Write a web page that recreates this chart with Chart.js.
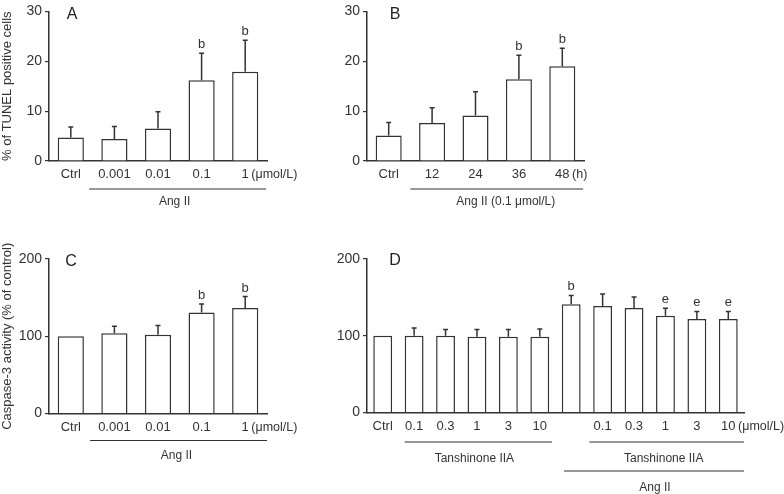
<!DOCTYPE html>
<html><head><meta charset="utf-8">
<script src="https://cdn.jsdelivr.net/npm/chart.js@4.4.0/dist/chart.umd.min.js"></script>
<style>
html,body{margin:0;padding:0;background:#fff;width:784px;height:494px;overflow:hidden;}
canvas{position:absolute;}
</style></head><body>
<canvas id="cA" width="330" height="230" style="left:0;top:0"></canvas>
<canvas id="cB" width="330" height="230" style="left:300px;top:0"></canvas>
<canvas id="cC" width="330" height="264" style="left:0;top:230px"></canvas>
<canvas id="cD" width="484" height="264" style="left:300px;top:230px"></canvas>
<script>
// ---- data ----
const doseLabels = ['Ctrl','0.001','0.01','0.1','1'];
const timeLabels = ['Ctrl','12','24','36','48'];
const tanLabels = ['Ctrl','0.1','0.3','1','3','10','','0.1','0.3','1','3','10'];

const tunelDoseMean = [4.7, 4.4, 6.5, 16.2, 17.9];
const tunelDoseSD   = [2.1, 2.5, 3.4, 5.4, 6.3];
const tunelDoseSig  = ['', '', '', 'b', 'b'];

const tunelTimeMean = [5.1, 7.6, 9.1, 16.4, 19.0];
const tunelTimeSD   = [2.6, 3.1, 4.8, 4.8, 3.6];
const tunelTimeSig  = ['', '', '', 'b', 'b'];

const caspDoseMean = [100, 103.9, 102, 130.6, 136.6];
const caspDoseSD   = [0, 9, 12, 11.3, 14.7];
const caspDoseSig  = ['', '', '', 'b', 'b'];

const caspTanMean = [100, 100, 100, 98.7, 98.7, 98.7, 140.9, 138.7, 136.1, 126.1, 121.7, 121.7];
const caspTanSD   = [0, 10, 8.3, 9.6, 9.6, 10, 11.7, 15.6, 14.3, 9.6, 10, 10];
const caspTanSig  = ['', '', '', '', '', '', 'b', '', '', 'e', 'e', 'e'];

const tunelTicks = [0, 10, 20, 30];
const caspTicks  = [0, 100, 200];

const unitDose = '(\u03bcmol/L)';
const unitTime = '(h)';

const groupsA = [{from:1, to:4, level:0, text:'Ang II'}];
const groupsB = [{from:1, to:4, level:0, text:'Ang II (0.1 \u03bcmol/L)'}];
const groupsC = [{from:1, to:4, level:0, text:'Ang II'}];
const groupsD = [{from:1, to:5, level:0, text:'Tanshinone IIA'},
                 {from:7, to:11, level:0, text:'Tanshinone IIA'},
                 {from:6, to:11, level:1, text:'Ang II'}];

// ---- style ----
const INK = '#333';
const FONT = '"Liberation Sans", Arial, sans-serif';
Chart.defaults.font.family = FONT;
Chart.defaults.color = INK;

const DECO = {
  cA: {sd: tunelDoseSD, sig: tunelDoseSig, unit: unitDose, groups: groupsA, letter:'A', lx:72, ly:15,
       lineOff:28, levelGap:29, textGap:13, lo:[-0.58], hi:[0.48], dx:[-3]},
  cB: {sd: tunelTimeSD, sig: tunelTimeSig, unit: unitTime, groups: groupsB, letter:'B', lx:95, ly:14.5,
       lineOff:28, levelGap:29, textGap:13, lo:[-0.5], hi:[0.48], dx:[9]},
  cC: {sd: caspDoseSD, sig: caspDoseSig, unit: unitDose, groups: groupsC, letter:'C', lx:71, ly:31.5,
       lineOff:27, levelGap:29, textGap:15, lo:[-0.56], hi:[0.5], dx:[-2]},
  cD: {sd: caspTanSD, sig: caspTanSig, unit: unitDose, groups: groupsD, letter:'D', lx:95, ly:31,
       lineOff:29.5, levelGap:29, textGap:16.5, lo:[-0.3,-0.42,-0.23], hi:[0.39,0.5,0.5], dx:[-4,-3,1]}
};

const deco = {
  id: 'deco',
  afterDatasetsDraw(chart) {
    const c = DECO[chart.canvas.id];
    const ctx = chart.ctx, y = chart.scales.y;
    const meta = chart.getDatasetMeta(0);
    const data = chart.data.datasets[0].data;
    ctx.save();
    ctx.strokeStyle = INK; ctx.fillStyle = INK; ctx.lineWidth = 1.5;
    ctx.font = '13px ' + FONT; ctx.textAlign = 'center'; ctx.textBaseline = 'alphabetic';
    data.forEach((v, i) => {
      const bx = meta.data[i].x;
      const y0 = y.getPixelForValue(v), y1 = y.getPixelForValue(v + c.sd[i]);
      if (c.sd[i] > 0) {
        ctx.beginPath();
        ctx.moveTo(bx, y0); ctx.lineTo(bx, y1);
        ctx.moveTo(bx - 2.5, y1); ctx.lineTo(bx + 2.5, y1);
        ctx.stroke();
      }
      if (c.sig[i]) ctx.fillText(c.sig[i], bx, y1 - 5);
    });
    ctx.restore();
  },
  afterDraw(chart) {
    const c = DECO[chart.canvas.id];
    const ctx = chart.ctx, x = chart.scales.x;
    const labels = chart.data.labels;
    ctx.save();
    ctx.fillStyle = INK; ctx.strokeStyle = INK;
    // unit after last tick label
    ctx.font = '13px ' + FONT;
    const li = labels.length - 1;
    const lw = ctx.measureText(labels[li]).width;
    ctx.font = '12.5px ' + FONT;
    ctx.textAlign = 'left'; ctx.textBaseline = 'middle';
    ctx.fillText(c.unit, x.getPixelForValue(li) + lw / 2 + 2.5, x.top + 6 + 13 * 1.2 / 2);
    // group lines
    const step = x.getPixelForValue(1) - x.getPixelForValue(0);
    ctx.font = '12px ' + FONT; ctx.textAlign = 'center';
    ctx.lineWidth = 1.2;
    c.groups.forEach((g, k) => {
      const x0 = x.getPixelForValue(g.from) + c.lo[k] * step;
      const x1 = x.getPixelForValue(g.to) + c.hi[k] * step;
      const ly = x.top + c.lineOff + g.level * c.levelGap;
      ctx.beginPath(); ctx.moveTo(x0, ly); ctx.lineTo(x1, ly); ctx.stroke();
      ctx.fillText(g.text, (x0 + x1) / 2 + c.dx[k], ly + c.textGap);
    });
    // panel letter
    ctx.font = '16px ' + FONT; ctx.fillStyle = '#222';
    ctx.fillText(c.letter, c.lx, c.ly);
    ctx.restore();
  }
};

function makeChart(id, labels, mean, ticks, yMax, yW, yTitle, pad, xH) {
  new Chart(document.getElementById(id), {
    type: 'bar',
    data: { labels: labels, datasets: [{ data: mean, backgroundColor: '#fff', borderColor: INK,
      borderWidth: 1.5, borderSkipped: 'start', barPercentage: 0.6, categoryPercentage: 1 }] },
    options: {
      responsive: false, animation: false, events: [],
      layout: { padding: pad },
      plugins: { legend: { display: false }, tooltip: { enabled: false }, title: { display: false } },
      scales: {
        x: {
          grid: { display: false, drawTicks: false },
          border: { display: true, color: INK, width: 1.5 },
          ticks: { color: INK, font: { size: 13 }, padding: 6, maxRotation: 0, autoSkip: false },
          afterFit(s) { s.height = xH; }
        },
        y: {
          min: 0, max: yMax,
          afterBuildTicks(s) { s.ticks = ticks.map(v => ({ value: v })); },
          grid: { display: true, drawOnChartArea: false, drawTicks: true, tickLength: 4, color: INK, lineWidth: 1.2 },
          border: { display: true, color: INK, width: 1.5 },
          ticks: { color: INK, font: { size: 14 }, padding: 3 },
          title: { display: !!yTitle, text: yTitle, color: INK, font: { size: 13 }, padding: 0 },
          afterFit(s) { s.width = yW; }
        }
      }
    },
    plugins: [deco]
  });
}

makeChart('cA', doseLabels, tunelDoseMean, tunelTicks, 30, 49, '% of TUNEL positive cells', {left:0, top:6, right:63, bottom:0}, 69);
makeChart('cB', timeLabels, tunelTimeMean, tunelTicks, 30, 67, '', {left:0, top:5, right:46, bottom:0}, 69);
makeChart('cC', doseLabels, caspDoseMean, caspTicks, 200, 49, 'Caspase-3 activity (% of control)', {left:0, top:29, right:63, bottom:0}, 80.5);
makeChart('cD', tanLabels, caspTanMean, caspTicks, 200, 67, '', {left:0, top:29, right:40, bottom:0}, 81.5);
</script>
</body></html>
